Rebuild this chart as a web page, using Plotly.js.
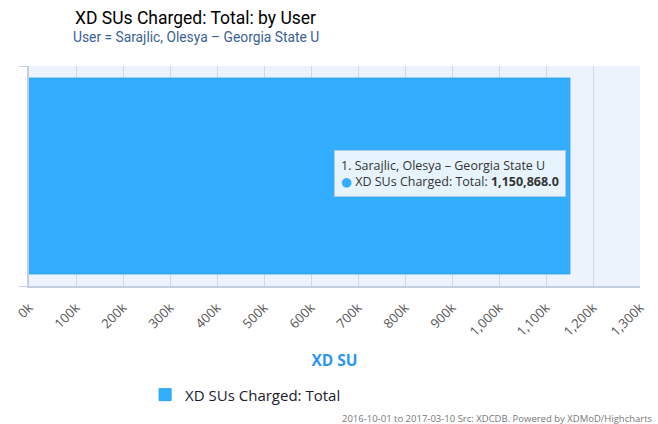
<!DOCTYPE html>
<html><head><meta charset="utf-8">
<script src="https://cdn.plot.ly/plotly-3.0.1.min.js"></script>
<style>html,body{margin:0;padding:0;background:#fff}#chart{width:658px;height:424px}</style>
</head><body><div id="chart"></div>
<script>
const users = ["Sarajlic, Olesya - Georgia State U"];
const suCharged = [1150868.0];
const seriesName = "XD SUs Charged: Total";
const tickValues = [0,100000,200000,300000,400000,500000,600000,700000,800000,900000,1000000,1100000,1200000,1300000];
const tickLabels = ["0k","100k","200k","300k","400k","500k","600k","700k","800k","900k","1,000k","1,100k","1,200k","1,300k"];

const font = "'Lucida Grande','Open Sans','DejaVu Sans',sans-serif";
const tfont = "Roboto,'Open Sans',sans-serif";
const barColor = "#33adff";

const trace = {
  type: "bar", orientation: "h",
  x: suCharged, y: [0],
  name: seriesName,
  width: 0.89,
  marker: {color: barColor, line: {color: "#2fa3f0", width: 1}},
  hoverinfo: "skip"
};

const userLabel = users[0].replace(" - ", " – ");
const tipText = "1. " + userLabel +
  "<br><span style='color:" + barColor + "'>●</span> " + seriesName + ": <b>" +
  suCharged[0].toLocaleString("en-US", {minimumFractionDigits: 1, maximumFractionDigits: 1}) + "</b>";

const layout = {
  width: 658, height: 424,
  margin: {l: 29, r: 18, t: 66, b: 136},
  paper_bgcolor: "#ffffff",
  plot_bgcolor: "#edf3fc",
  font: {family: font, color: "#333"},
  showlegend: true,
  legend: {
    orientation: "h", x: 0.19, xanchor: "left", y: -0.42, yanchor: "top",
    font: {size: 15, color: "#1a1a2e", family: font},
    bgcolor: "rgba(0,0,0,0)"
  },
  xaxis: {
    range: [0, 1300000],
    tickmode: "array", tickvals: tickValues, ticktext: tickLabels,
    tickangle: -45,
    tickfont: {size: 13, color: "#555", family: font},
    showgrid: true, gridcolor: "#d3d9e2", gridwidth: 1,
    zeroline: false,
    showline: true, linecolor: "#c3cfde", linewidth: 2,
    ticks: "outside", ticklen: 7, tickcolor: "rgba(0,0,0,0)", automargin: false,
    title: {text: "<b>XD SU</b>", font: {size: 15.5, color: "#2e95f2", family: font}, standoff: 16},
    fixedrange: true
  },
  yaxis: {
    range: [-0.5, 0.5],
    tickmode: "array", tickvals: [-0.5, 0.5], ticktext: ["", ""],
    showticklabels: false,
    ticks: "outside", ticklen: 8, tickcolor: "#c3cfde", tickwidth: 1,
    showgrid: false, zeroline: false,
    showline: true, linecolor: "#c3cfde", linewidth: 2,
    automargin: false, fixedrange: true
  },
  annotations: [
    {
      x: 0.273, xref: "paper", xanchor: "center",
      y: 1.216, yref: "paper", yanchor: "middle",
      text: "XD SUs Charged: Total: by User", showarrow: false,
      font: {size: 17.5, color: "#000", family: tfont}
    },
    {
      x: 0.273, xref: "paper", xanchor: "center",
      y: 1.131, yref: "paper", yanchor: "middle",
      text: "User = " + userLabel, showarrow: false,
      font: {size: 13.8, color: "#3a5f94", family: tfont}
    },
    {
      x: suCharged[0], xref: "x", xanchor: "right", xshift: -4,
      y: 0.51, yref: "paper", yanchor: "middle",
      text: tipText, showarrow: false, align: "left",
      font: {size: 12.5, color: "#333", family: font},
      bgcolor: "rgba(238,246,253,0.96)", bordercolor: "#a9c9e6", borderwidth: 1, borderpad: 6
    },
    {
      x: 1.0245, xref: "paper", xanchor: "right",
      y: -0.603, yref: "paper", yanchor: "middle",
      text: "2016-10-01 to 2017-03-10 Src: XDCDB. Powered by XDMoD/Highcharts",
      showarrow: false, font: {size: 9.5, color: "#777", family: font}
    }
  ]
};

Plotly.newPlot("chart", [trace], layout, {displayModeBar: false, staticPlot: true});
</script></body></html>
